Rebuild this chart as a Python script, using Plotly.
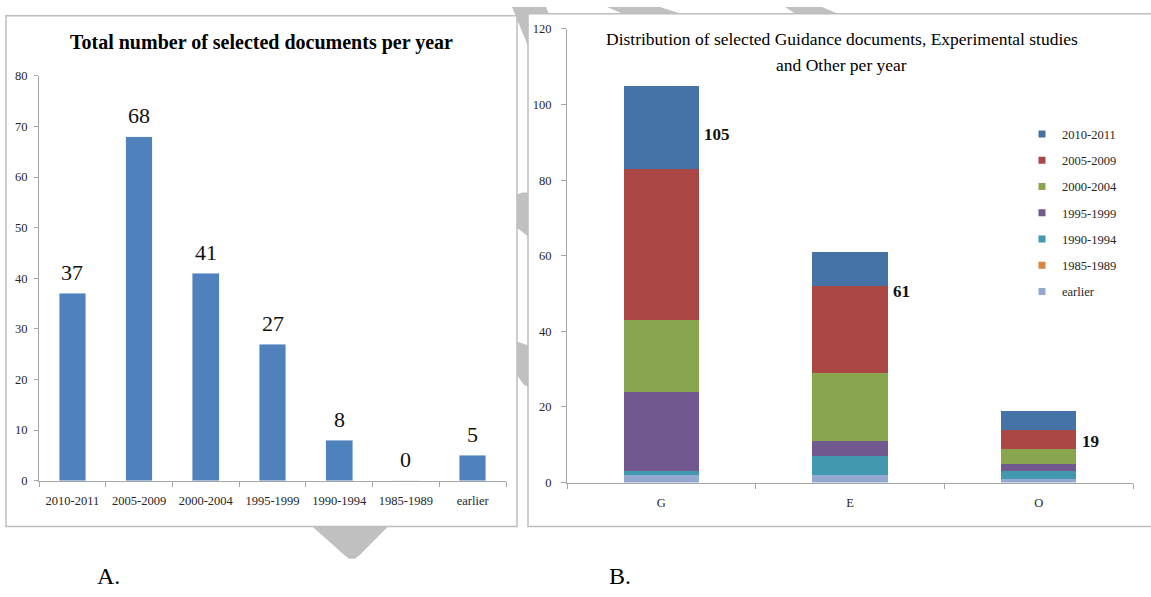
import plotly.graph_objects as go

# ---------------------------------------------------------------- data
periods = ["2010-2011", "2005-2009", "2000-2004", "1995-1999",
           "1990-1994", "1985-1989", "earlier"]
period_totals = [37, 68, 41, 27, 8, 0, 5]

doc_types = ["G", "E", "O"]
# documents per type (G, E, O) for each period
n_2010_2011 = [22, 9, 5]
n_2005_2009 = [40, 23, 5]
n_2000_2004 = [19, 18, 4]
n_1995_1999 = [21, 4, 2]
n_1990_1994 = [1, 5, 2]
n_1985_1989 = [0, 0, 0]
n_earlier = [2, 2, 1]

# ---------------------------------------------------------------- layout helpers
W, H = 1151, 597
SERIF = "Liberation Serif"


def px(x):
    return x / W


def py(y):
    return 1 - y / H


def poly(pts):
    return "M " + " L ".join(f"{px(x):.5f},{py(y):.5f}" for x, y in pts) + " Z"


# stack order, bottom to top
stack = [
    ("earlier", n_earlier, "#93A9CF"),
    ("1985-1989", n_1985_1989, "#DB843D"),
    ("1990-1994", n_1990_1994, "#4198AF"),
    ("1995-1999", n_1995_1999, "#71588F"),
    ("2000-2004", n_2000_2004, "#89A54E"),
    ("2005-2009", n_2005_2009, "#AA4643"),
    ("2010-2011", n_2010_2011, "#4572A7"),
]

fig = go.Figure()

# A. totals per period
fig.add_trace(go.Bar(x=periods, y=period_totals, marker_color="#4F81BD",
                     xaxis="x", yaxis="y", showlegend=False, hoverinfo="x+y"))

# B. stacked distribution per document type
for name, vals, color in stack:
    fig.add_trace(go.Bar(x=doc_types, y=vals, name=name, marker_color=color,
                         marker_line_width=0, xaxis="x2", yaxis="y2",
                         showlegend=False))

# legend keys (top entry = newest period)
for name, vals, color in reversed(stack):
    fig.add_trace(go.Scatter(x=[None], y=[None], mode="markers", name=name,
                             marker=dict(symbol="square", size=7, color=color),
                             xaxis="x2", yaxis="y2", legendgroup=name,
                             showlegend=True))

type_totals = [sum(v[i] for _, v, _ in stack) for i in range(len(doc_types))]
total_label_y = [92, 50.5, 11]

annotations = []
for cat, v in zip(periods, period_totals):
    annotations.append(dict(x=cat, y=v, xref="x", yref="y", text=str(v),
                            showarrow=False, yanchor="middle", yshift=21,
                            font=dict(family=SERIF, size=22, color="#111")))
for cat, tot, ly in zip(doc_types, type_totals, total_label_y):
    annotations.append(dict(x=cat, y=ly, xref="x2", yref="y2",
                            text=f"<b>{tot}</b>", showarrow=False,
                            xanchor="left", yanchor="middle", xshift=41,
                            font=dict(family=SERIF, size=17, color="#111")))

annotations += [
    dict(x=px(261), y=py(36), xref="paper", yref="paper", showarrow=False,
         text="<b>Total number of selected documents per year</b>",
         xanchor="center", yanchor="middle",
         font=dict(family=SERIF, size=20, color="#000")),
    dict(x=px(842), y=py(33), xref="paper", yref="paper", showarrow=False,
         text="Distribution of selected Guidance documents, Experimental studies",
         xanchor="center", yanchor="middle",
         font=dict(family=SERIF, size=17.5, color="#000")),
    dict(x=px(842), y=py(59), xref="paper", yref="paper", showarrow=False,
         text="and Other per year", xanchor="center", yanchor="middle",
         font=dict(family=SERIF, size=17.5, color="#000")),
    dict(x=px(108), y=py(583), xref="paper", yref="paper", showarrow=False,
         text="A.", xanchor="center", yanchor="middle",
         font=dict(family=SERIF, size=24, color="#000")),
    dict(x=px(620), y=py(583), xref="paper", yref="paper", showarrow=False,
         text="B.", xanchor="center", yanchor="middle",
         font=dict(family=SERIF, size=24, color="#000")),
]

# grey background watermark pieces, then the two white chart panels
GREY = "#C0C0C0"
shapes = [
    dict(type="path", path=poly([(512, 0), (546, 0), (570, 60), (536, 60)])),
    dict(type="path", path=poly([(607, 0), (660, 0), (690, 10), (630, 10)])),
    dict(type="path", path=poly([(785, 0), (822, 0), (845, 10), (800, 10)])),
    dict(type="path", path=poly([(510, 195), (522, 190), (532, 190), (532, 238),
                                 (517, 226), (510, 222)])),
    dict(type="path", path=poly([(510, 340), (532, 348), (532, 390), (524, 387),
                                 (519, 380), (510, 366)])),
    dict(type="path", path=poly([(310, 530), (390, 530), (360, 561), (355, 565),
                                 (349, 565), (344, 561)])),
]
for s in shapes:
    s.update(xref="paper", yref="paper", fillcolor=GREY,
             line=dict(width=0), layer="below")
shapes += [
    dict(type="rect", xref="paper", yref="paper", x0=px(6), x1=px(517),
         y0=py(532), y1=py(9), fillcolor="white",
         line=dict(color="#BDBDBD", width=1.5), layer="below"),
    dict(type="rect", xref="paper", yref="paper", x0=px(528), x1=px(1160),
         y0=py(532), y1=py(7), fillcolor="white",
         line=dict(color="#BDBDBD", width=1.5), layer="below"),
]

axis_common = dict(showline=True, linecolor="#A6A6A6", linewidth=1,
                   ticks="outside", tickcolor="#A6A6A6", showgrid=False,
                   zeroline=False, fixedrange=True,
                   tickfont=dict(family=SERIF, size=12.5, color="#262626"))

fig.update_layout(
    width=W, height=H, autosize=False,
    margin=dict(l=0, r=0, t=0, b=0),
    paper_bgcolor="white", plot_bgcolor="rgba(0,0,0,0)",
    barmode="stack", bargap=0.6,
    font=dict(family=SERIF, color="#262626"),
    xaxis=dict(domain=[px(39), px(506)], anchor="y", type="category",
               range=[-0.5, 6.5], tickson="boundaries", ticklen=5,
               ticklabelstandoff=8, **axis_common),
    yaxis=dict(domain=[py(485), py(70.5)], anchor="x", range=[0, 80],
               dtick=10, ticklen=4, ticklabelstandoff=4, **axis_common),
    xaxis2=dict(domain=[px(567), px(1133)], anchor="y2", type="category",
                range=[-0.5, 2.5], tickson="boundaries", ticklen=5,
                ticklabelstandoff=8, **axis_common),
    yaxis2=dict(domain=[py(487), py(22.5)], anchor="x2", range=[0, 120],
                dtick=20, ticklen=5, ticklabelstandoff=7, **axis_common),
    legend=dict(x=px(1022), y=py(115), xanchor="left", yanchor="top",
                bgcolor="rgba(0,0,0,0)", tracegroupgap=7, itemwidth=30,
                font=dict(family=SERIF, size=12.5, color="#262626")),
    annotations=annotations,
    shapes=shapes,
)

fig.write_html("out.html")
